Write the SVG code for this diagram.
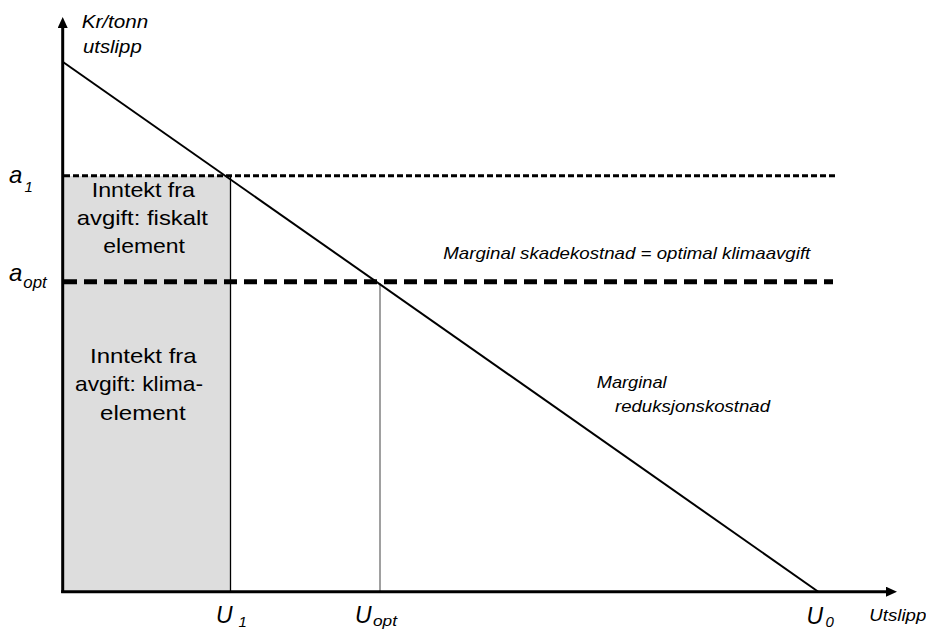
<svg xmlns="http://www.w3.org/2000/svg" width="926" height="630" viewBox="0 0 926 630">
<defs>
<style>
.lbl{font-family:"Liberation Sans",Arial,sans-serif;font-style:italic;fill:#000}
.body{font-family:"Liberation Sans",Arial,sans-serif;font-size:21px;fill:#000}
.axis{stroke:#000;stroke-width:3;fill:none}
</style>
<marker id="arrow" viewBox="0 0 11 10" refX="0" refY="5" markerWidth="11" markerHeight="10" markerUnits="userSpaceOnUse" orient="auto">
<path d="M0,0 L11,5 L0,10 z" fill="#000"/>
</marker>
</defs>
<rect width="926" height="630" fill="#fff"/>
<g id="fiscal-area">
<rect x="63" y="176" width="168" height="416" fill="#dddddd"/>
<line x1="230.5" y1="176" x2="230.5" y2="592" stroke="#000" stroke-width="1.3"/>
</g>
<g id="connectors">
<line id="a1-line" x1="64" y1="175.7" x2="835" y2="175.7" stroke="#000" stroke-width="3" stroke-dasharray="6 3"/>
<line id="aopt-line" x1="64" y1="281.7" x2="833" y2="281.7" stroke="#000" stroke-width="5" stroke-dasharray="13 7"/>
<line id="uopt-line" x1="380" y1="283" x2="380" y2="592" stroke="#808080" stroke-width="1.5"/>
<line id="mac-curve" x1="63" y1="62" x2="818.3" y2="591.7" stroke="#000" stroke-width="2"/>
<line id="y-axis" class="axis" x1="62.7" y1="593" x2="62.7" y2="28" marker-end="url(#arrow)"/>
<line id="x-axis" class="axis" x1="61.2" y1="591.7" x2="886" y2="591.7" marker-end="url(#arrow)"/>
</g>
<g id="axis-labels">
<text class="lbl" x="81.7" y="28" font-size="19" textLength="66.6" lengthAdjust="spacingAndGlyphs">Kr/tonn</text>
<text class="lbl" x="83" y="53" font-size="19" textLength="58.7" lengthAdjust="spacingAndGlyphs">utslipp</text>
<text class="lbl" x="869.3" y="620.7" font-size="16" textLength="57" lengthAdjust="spacingAndGlyphs">Utslipp</text>
</g>
<g id="a1-label">
<text class="lbl" x="9" y="183.3" font-size="24">a</text>
<text class="lbl" x="24.5" y="191.7" font-size="15">1</text>
</g>
<g id="aopt-label">
<text class="lbl" x="9" y="280.7" font-size="24">a</text>
<text class="lbl" x="23.3" y="288.3" font-size="16" textLength="23.4" lengthAdjust="spacingAndGlyphs">opt</text>
</g>
<g id="u1-label">
<text class="lbl" x="216" y="623" font-size="23">U</text>
<text class="lbl" x="238.5" y="627" font-size="15">1</text>
</g>
<g id="uopt-label">
<text class="lbl" x="355" y="623" font-size="23">U</text>
<text class="lbl" x="373" y="626" font-size="15" textLength="24" lengthAdjust="spacingAndGlyphs">opt</text>
</g>
<g id="u0-label">
<text class="lbl" x="806.5" y="624" font-size="23">U</text>
<text class="lbl" x="825.5" y="627" font-size="15">0</text>
</g>
<g id="fiscal-text">
<text class="body" x="91.7" y="197" textLength="103.3" lengthAdjust="spacingAndGlyphs">Inntekt fra</text>
<text class="body" x="76.7" y="225" textLength="131.3" lengthAdjust="spacingAndGlyphs">avgift: fiskalt</text>
<text class="body" x="103.3" y="253" textLength="81.7" lengthAdjust="spacingAndGlyphs">element</text>
</g>
<g id="climate-text">
<text class="body" x="90" y="362.7" textLength="106.7" lengthAdjust="spacingAndGlyphs">Inntekt fra</text>
<text class="body" x="75" y="391" textLength="128" lengthAdjust="spacingAndGlyphs">avgift: klima-</text>
<text class="body" x="100" y="420" textLength="85.7" lengthAdjust="spacingAndGlyphs">element</text>
</g>
<g id="damage-label">
<text class="lbl" x="443.3" y="259" font-size="17" textLength="367" lengthAdjust="spacingAndGlyphs">Marginal skadekostnad = optimal klimaavgift</text>
</g>
<g id="mac-label">
<text class="lbl" x="596.7" y="388.3" font-size="17" textLength="70" lengthAdjust="spacingAndGlyphs">Marginal</text>
<text class="lbl" x="615" y="411.7" font-size="17" textLength="155" lengthAdjust="spacingAndGlyphs">reduksjonskostnad</text>
</g>
</svg>
